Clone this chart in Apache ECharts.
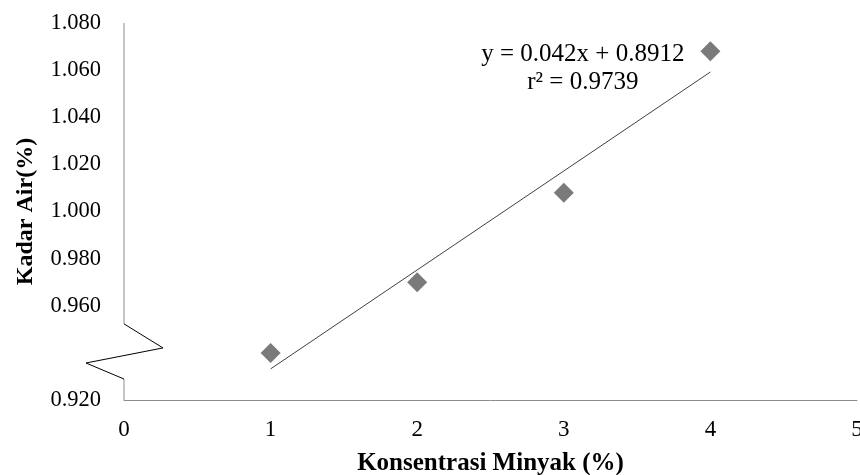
<!DOCTYPE html>
<html>
<head>
<meta charset="utf-8">
<script src="https://cdn.jsdelivr.net/npm/echarts@6/dist/echarts.min.js"></script>
<style>html,body{margin:0;padding:0;background:#fff}#c{width:860px;height:475px}</style>
</head>
<body>
<div id="c"></div>
<script>
const xValues = [1, 2, 3, 4];
const yValues = [0.940, 0.970, 1.008, 1.068];
const trendX = [1, 4];
const trendY = [0.9332, 1.0592];
const yTicks = [0.920, 0.940, 0.960, 0.980, 1.000, 1.020, 1.040, 1.060, 1.080];
const hiddenTick = 0.940;
const xTitle = 'Konsentrasi Minyak (%)';
const yTitle = 'Kadar Air(%)';
const equation = 'y = 0.042x + 0.8912';
const rsq = 'r² = 0.9739';
// axis break (zigzag) in data coordinates
const axisUpper = [[0, 1.080], [0, 0.9523]];
const zigzag = [[0, 0.9523], [0.266, 0.9421], [-0.259, 0.9357], [0, 0.9289]];
const axisLower = [[0, 0.9289], [0, 0.920]];
const labelAnchor = [3.13, 1.0665];

const font = '"Liberation Serif", "Times New Roman", serif';
const chart = echarts.init(document.getElementById('c'));
chart.setOption({
  animation: false,
  backgroundColor: '#fff',
  grid: {left: 124, right: 3, top: 23, bottom: 75, containLabel: false, outerBoundsMode: 'none'},
  xAxis: {
    type: 'value', min: 0, max: 5, interval: 1,
    axisLine: {show: true, onZero: false, lineStyle: {color: '#8c8c8c', width: 1}},
    axisTick: {show: false},
    splitLine: {show: false},
    axisLabel: {color: '#000', fontFamily: font, fontSize: 23, margin: 18},
    name: xTitle, nameLocation: 'middle', nameGap: 51,
    nameTextStyle: {color: '#000', fontFamily: font, fontSize: 25, fontWeight: 'bold'}
  },
  yAxis: {
    type: 'value', min: yTicks[0], max: yTicks[yTicks.length - 1], interval: 0.02,
    axisLine: {show: false},
    axisTick: {show: false},
    splitLine: {show: false},
    axisLabel: {color: '#000', fontFamily: font, fontSize: 22.5, margin: 23,
      formatter: v => Math.abs(v - hiddenTick) < 1e-6 ? '' : v.toFixed(3)},
    name: yTitle, nameLocation: 'middle', nameGap: 86,
    nameTextStyle: {color: '#000', fontFamily: font, fontSize: 24, fontWeight: 'bold'}
  },
  series: [
    {type: 'line', data: trendX.map((x, i) => [x, trendY[i]]), symbol: 'none',
      lineStyle: {color: '#404040', width: 1}, z: 2},
    {type: 'scatter', data: xValues.map((x, i) => [x, yValues[i]]), symbol: 'diamond',
      symbolSize: 20, itemStyle: {color: '#595959'}, z: 3}
  ]
});

const px = p => chart.convertToPixel({gridIndex: 0}, p);
const a = px(labelAnchor);
chart.setOption({
  graphic: [
    {type: 'polyline', shape: {points: axisUpper.map(px)}, style: {stroke: '#8c8c8c', lineWidth: 1, fill: null}, silent: true},
    {type: 'polyline', shape: {points: axisLower.map(px)}, style: {stroke: '#8c8c8c', lineWidth: 1, fill: null}, silent: true},
    {type: 'polyline', shape: {points: zigzag.map(px)}, style: {stroke: '#000', lineWidth: 1, fill: null}, silent: true},
    {type: 'text', x: a[0], y: a[1], style: {text: equation, font: '25px ' + font, fill: '#000', textAlign: 'center', textVerticalAlign: 'middle'}},
    {type: 'text', x: a[0], y: a[1] + 28, style: {text: rsq, font: '25px ' + font, fill: '#000', textAlign: 'center', textVerticalAlign: 'middle'}}
  ]
});
</script>
</body>
</html>
